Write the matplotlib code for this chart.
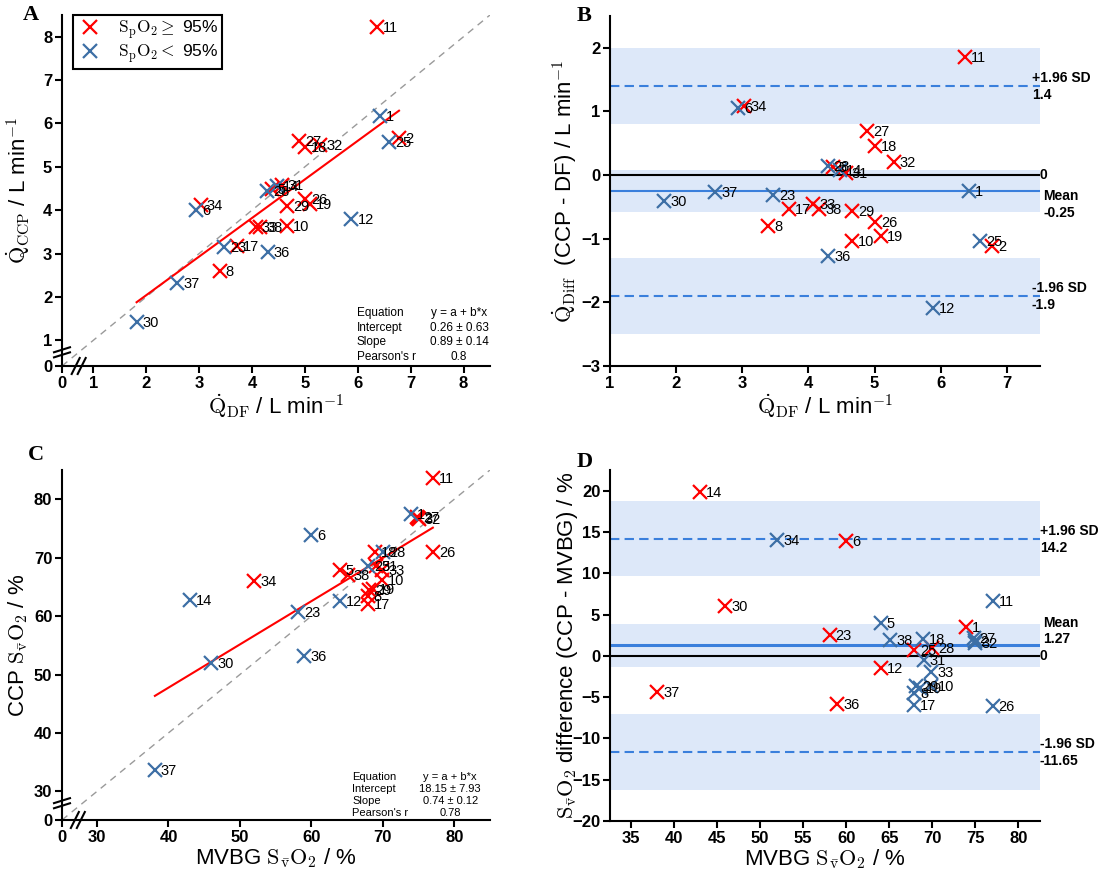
"""
Method comparison figure: CCP vs dye-free (DF) cardiac output (A, B)
and CCP vs MVBG mixed-venous saturation (C, D).  Saved as out.png.
"""

import matplotlib
matplotlib.use("Agg")
import matplotlib.pyplot as plt
import numpy as np

plt.rcParams["font.family"] = ["Liberation Sans", "DejaVu Sans"]
plt.rcParams["mathtext.fontset"] = "cm"

# ── Data ─────────────────────────────────────────────────────────────────────
ids = [1, 2, 5, 6, 8, 10, 11, 12, 14, 17, 18, 19, 23,
       25, 26, 27, 28, 29, 30, 31, 32, 33, 34, 36, 37, 38]
# True -> SpO2 >= 95 %
high_spo2 = [False, True, True, False, True, True, True, False, False, True, True, True, False,
             False, True, True, False, True, False, True, True, True, True, False, False, True]

q_df = [6.42, 6.78, 4.37, 2.94, 3.39, 4.66, 6.37, 5.88, 4.47, 3.71, 5.01, 5.10, 3.47,
        6.60, 5.01, 4.89, 4.29, 4.66, 1.82, 4.56, 5.29, 4.07, 3.03, 4.30, 2.59, 4.16]
q_ccp = [6.17, 5.66, 4.50, 4.00, 2.59, 3.63, 8.22, 3.79, 4.55, 3.18, 5.46, 4.14, 3.15,
         5.57, 4.27, 5.59, 4.44, 4.10, 1.42, 4.59, 5.50, 3.62, 4.12, 3.03, 2.32, 3.62]

svo2_mvbg = [73.9, 74.9, 64.0, 60.0, 67.9, 69.9, 77.0, 64.0, 43.0, 67.9, 68.9, 68.6, 58.1,
             67.9, 77.0, 74.8, 70.0, 68.1, 46.0, 69.0, 75.0, 69.9, 52.0, 59.0, 38.1, 65.1]
svo2_ccp = [77.4, 76.7, 67.96, 73.86, 63.4, 66.2, 83.6, 62.5, 62.8, 62.0, 70.96, 64.7, 60.65,
            68.63, 70.94, 76.9, 70.9, 64.4, 51.98, 68.55, 76.55, 67.95, 65.98, 53.14, 33.7, 66.96]

# regression / Bland-Altman statistics printed on the figure
fit_q = (0.26, 0.89)
fit_q_text = ["y = a + b*x", "0.26 \u00b1 0.63", "0.89 \u00b1 0.14", "0.8"]
fit_s = (18.15, 0.74)
fit_s_text = ["y = a + b*x", "18.15 \u00b1 7.93", "0.74 \u00b1 0.12", "0.78"]

ba_q = {"mean": -0.25, "upper": 1.4, "lower": -1.9, "ci_mean": 0.335, "ci_loa": 0.59}
ba_s = {"mean": 1.27, "upper": 14.2, "lower": -11.65, "ci_mean": 2.62, "ci_loa": 4.58}

# ── Style ─────────────────────────────────────────────────────────────────────
_RED = "#ff0000"
_BLUE = "#3d6fa5"
_BAND = "#dde8f9"
_LINE = "#3a7fdc"
_W, _H = 1100, 883
_LABEL_FS = 16


def _add_axes(fig, left, top, right, bottom):
    return fig.add_axes([left / _W, 1 - bottom / _H, (right - left) / _W, (bottom - top) / _H])


def _style_axes(ax):
    for side in ("top", "right"):
        ax.spines[side].set_visible(False)
    for side in ("left", "bottom"):
        ax.spines[side].set_linewidth(1.5)
    ax.tick_params(direction="out", length=5, width=1.5, labelsize=12, pad=2)


def _bold_ticks(ax):
    plt.setp(ax.get_xticklabels(), fontweight="bold")
    plt.setp(ax.get_yticklabels(), fontweight="bold")


def _broken(lo, zero_at):
    """Piecewise scale: [0, lo] squeezed into [zero_at, lo]."""
    def fwd(v):
        v = np.asarray(v, dtype=float)
        return np.where(v >= lo, v, zero_at + (lo - zero_at) * v / lo)

    def inv(u):
        u = np.asarray(u, dtype=float)
        return np.where(u >= lo, u, (u - zero_at) * lo / (lo - zero_at))
    return fwd, inv


def _break_marks(ax, xfrac, yfrac):
    """Two short slanted strokes across each spine (pixel-sized)."""
    bb = ax.get_position()
    wpx, hpx = bb.width * _W, bb.height * _H
    kw = dict(transform=ax.transAxes, color="black", lw=1.5, clip_on=False, zorder=6)
    for s in (-3, 3):
        cx = xfrac + s / wpx
        ax.plot([cx - 4 / wpx, cx + 4 / wpx], [-8 / hpx, 8 / hpx], **kw)
        cy = yfrac + s * 0.85 / hpx
        ax.plot([-8 / wpx, 8 / wpx], [cy - 2.5 / hpx, cy + 2.5 / hpx], **kw)


def _points(ax, x, y, red_mask, labels):
    x, y = np.asarray(x), np.asarray(y)
    red_mask = np.asarray(red_mask)
    h_red, = ax.plot(x[red_mask], y[red_mask], "x", ms=10, mew=1.6, color=_RED, zorder=5)
    h_blue, = ax.plot(x[~red_mask], y[~red_mask], "x", ms=10, mew=1.6, color=_BLUE, zorder=5)
    for xi, yi, lb in zip(x, y, labels):
        ax.annotate(str(lb), (xi, yi), xytext=(6, -1), textcoords="offset pixels",
                    ha="left", va="center", fontsize=10.5, zorder=7)
    return h_red, h_blue


def _stats_box(ax, values, x_left, x_right, y_rows, size):
    names = ["Equation", "Intercept", "Slope", "Pearson's r"]
    for name, val, yy in zip(names, values, y_rows):
        ax.text(x_left, yy, name, transform=ax.transAxes, fontsize=size, va="center", ha="left")
        ax.text(x_right, yy, val, transform=ax.transAxes, fontsize=size, va="center", ha="center")


def _bland_altman(ax, stats):
    m, up, lo = stats["mean"], stats["upper"], stats["lower"]
    ax.axhspan(m - stats["ci_mean"], m + stats["ci_mean"], color=_BAND, lw=0, zorder=0)
    ax.axhspan(up - stats["ci_loa"], up + stats["ci_loa"], color=_BAND, lw=0, zorder=0)
    ax.axhspan(lo - stats["ci_loa"], lo + stats["ci_loa"], color=_BAND, lw=0, zorder=0)
    ax.axhline(0, color="black", lw=1.5, zorder=2)
    ax.axhline(up, color=_LINE, lw=1.5, dashes=(4.5, 2.5), zorder=2)
    ax.axhline(lo, color=_LINE, lw=1.5, dashes=(4.5, 2.5), zorder=2)


def _right_text(ax, y, text, dx, dy):
    ax.annotate(text, (1.0, y), xycoords=("axes fraction", "data"), xytext=(dx, dy),
                textcoords="offset pixels", ha="left", va="center",
                fontsize=10, fontweight="bold", annotation_clip=False)


def _panel_letter(fig, x, y, letter):
    fig.text(x / _W, 1 - y / _H, letter, family="Liberation Serif", fontweight="bold",
             fontsize=16, va="center")


fig = plt.figure(figsize=(_W / 100, _H / 100), dpi=100)
fig.patch.set_facecolor("white")

red_ac = np.asarray(high_spo2)
svo2 = r"$\mathrm{S}_{\bar{\mathrm{v}}}\mathrm{O}_2$"

# ── A: CCP vs DF cardiac output ──────────────────────────────────────────────
ax = _add_axes(fig, 62, 15, 490, 366)
_style_axes(ax)
ax.set_xscale("function", functions=_broken(1.0, 0.41))
ax.set_yscale("function", functions=_broken(1.0, 0.41))
ax.set_xlim(0, 8.5)
ax.set_ylim(0, 8.5)
ax.set_xticks(range(0, 9))
ax.set_yticks(range(0, 9))
ident = np.array([0.0, 1.0, 8.5])
ax.plot(ident, ident, color="#9a9a9a", lw=1, dashes=(5, 4), zorder=1)
xf = np.array([min(q_df), max(q_df)])
ax.plot(xf, fit_q[0] + fit_q[1] * xf, color=_RED, lw=1.5, zorder=3)
h_red, h_blue = _points(ax, q_df, q_ccp, red_ac, ids)
leg = ax.legend([h_red, h_blue],
                [r"$\mathrm{S_pO_2} \geq$ 95%", r"$\mathrm{S_pO_2} <$ 95%"],
                loc="upper left", bbox_to_anchor=(0.026, 1.0), borderaxespad=0,
                fontsize=12.5, fancybox=False, framealpha=1, edgecolor="black",
                handletextpad=0.8, borderpad=0.2, labelspacing=0.05, handlelength=1.6)
leg.get_frame().set_linewidth(1.5)
_stats_box(ax, fit_q_text, 0.689, 0.928, [0.151, 0.109, 0.068, 0.027], 8.5)
ax.set_ylabel(r"$\dot{\mathrm{Q}}_{\mathrm{CCP}}$ / L min$^{-1}$", fontsize=_LABEL_FS)
ax.set_xlabel(r"$\dot{\mathrm{Q}}_{\mathrm{DF}}$ / L min$^{-1}$", fontsize=_LABEL_FS)
ax.yaxis.set_label_coords(-0.07, 0.5)
ax.xaxis.set_label_coords(0.5, -0.075)
_bold_ticks(ax)
_break_marks(ax, 0.039, 0.039)
_panel_letter(fig, 23, 15, "A")

# ── B: Bland-Altman, cardiac output ──────────────────────────────────────────
ax = _add_axes(fig, 610, 16, 1040, 366)
_style_axes(ax)
ax.set_xlim(1, 7.5)
ax.set_ylim(-3, 2.5)
ax.set_xticks(range(1, 8))
ax.set_yticks(range(-3, 3))
_bland_altman(ax, ba_q)
ax.axhline(ba_q["mean"], color=_LINE, lw=1.5, zorder=2)
q_diff = np.asarray(q_ccp) - np.asarray(q_df)
_points(ax, q_df, q_diff, red_ac, ids)
_right_text(ax, ba_q["upper"], "+1.96 SD", -8, 8)
_right_text(ax, ba_q["upper"], f"{ba_q['upper']:g}", -8, -9)
_right_text(ax, 0, "0", 0, 0)
_right_text(ax, ba_q["mean"], "Mean", 3, -5)
_right_text(ax, ba_q["mean"], f"{ba_q['mean']:g}", 3, -22)
_right_text(ax, ba_q["lower"], "-1.96 SD", -8, 8)
_right_text(ax, ba_q["lower"], f"{ba_q['lower']:g}", -8, -9)
ax.set_ylabel(r"$\dot{\mathrm{Q}}_{\mathrm{Diff}}$  (CCP - DF) / L min$^{-1}$", fontsize=_LABEL_FS)
ax.set_xlabel(r"$\dot{\mathrm{Q}}_{\mathrm{DF}}$ / L min$^{-1}$", fontsize=_LABEL_FS)
ax.yaxis.set_label_coords(-0.072, 0.5)
ax.xaxis.set_label_coords(0.5, -0.075)
_bold_ticks(ax)
_panel_letter(fig, 577, 16, "B")

# ── C: CCP vs MVBG SvO2 ──────────────────────────────────────────────────────
ax = _add_axes(fig, 62, 470, 490, 820)
_style_axes(ax)
ax.set_xscale("function", functions=_broken(30.0, 25.1))
ax.set_yscale("function", functions=_broken(30.0, 25.1))
ax.set_xlim(0, 85)
ax.set_ylim(0, 85)
ax.set_xticks([0, 30, 40, 50, 60, 70, 80])
ax.set_yticks([0, 30, 40, 50, 60, 70, 80])
ident = np.array([0.0, 30.0, 85.0])
ax.plot(ident, ident, color="#9a9a9a", lw=1, dashes=(5, 4), zorder=1)
xf = np.array([min(svo2_mvbg), max(svo2_mvbg)])
ax.plot(xf, fit_s[0] + fit_s[1] * xf, color=_RED, lw=1.5, zorder=3)
_points(ax, svo2_mvbg, svo2_ccp, red_ac, ids)
_stats_box(ax, fit_s_text, 0.678, 0.907, [0.124, 0.089, 0.055, 0.02], 8)
ax.set_ylabel("CCP " + svo2 + " / %", fontsize=_LABEL_FS)
ax.set_xlabel("MVBG " + svo2 + " / %", fontsize=_LABEL_FS)
ax.yaxis.set_label_coords(-0.075, 0.5)
ax.xaxis.set_label_coords(0.5, -0.075)
_bold_ticks(ax)
_break_marks(ax, 0.037, 0.048)
_panel_letter(fig, 28, 455, "C")

# ── D: Bland-Altman, SvO2 (colours are swapped in the original) ─────────────
ax = _add_axes(fig, 610, 470, 1040, 821)
_style_axes(ax)
ax.set_xlim(32.6, 82.5)
ax.set_ylim(-20, 22.5)
ax.set_xticks(range(35, 85, 5))
ax.set_yticks(range(-20, 25, 5))
_bland_altman(ax, ba_s)
ax.axhline(ba_s["mean"], color=_LINE, lw=2.2, zorder=2)
s_diff = np.asarray(svo2_ccp) - np.asarray(svo2_mvbg)
_points(ax, svo2_mvbg, s_diff, ~red_ac, ids)
_right_text(ax, ba_s["upper"], "+1.96 SD", 0, 8)
_right_text(ax, ba_s["upper"], f"{ba_s['upper']:g}", 0, -9)
_right_text(ax, 0, "0", 0, 0)
_right_text(ax, ba_s["mean"], "Mean", 3, 22)
_right_text(ax, ba_s["mean"], f"{ba_s['mean']:g}", 3, 6)
_right_text(ax, ba_s["lower"], "-1.96 SD", 0, 8)
_right_text(ax, ba_s["lower"], f"{ba_s['lower']:g}", 0, -9)
ax.set_ylabel(svo2 + " difference (CCP - MVBG) / %", fontsize=_LABEL_FS)
ax.set_xlabel("MVBG " + svo2 + " / %", fontsize=_LABEL_FS)
ax.yaxis.set_label_coords(-0.07, 0.5)
ax.xaxis.set_label_coords(0.5, -0.075)
_bold_ticks(ax)
_panel_letter(fig, 577, 462, "D")

fig.savefig("out.png", dpi=100, facecolor="white")
